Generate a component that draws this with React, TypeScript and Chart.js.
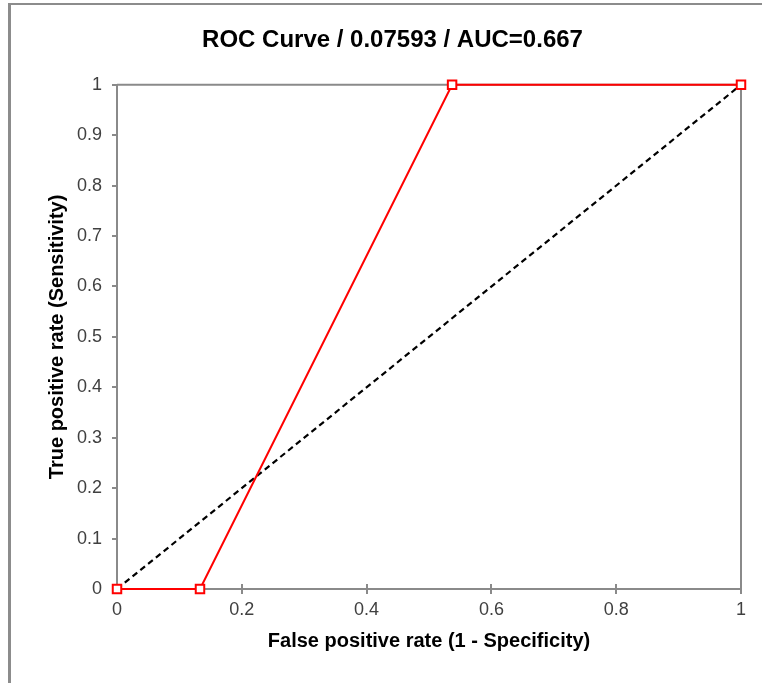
import React, { useEffect, useRef } from "react";
import { Chart, registerables } from "chart.js";

Chart.register(...registerables);

const titleText = "ROC Curve / 0.07593 / AUC=0.667";
const xAxisTitle = "False positive rate (1 - Specificity)";
const yAxisTitle = "True positive rate (Sensitivity)";

const rocFpr = [0, 0.133, 0.537, 1];
const rocTpr = [0, 0, 1, 1];
const diagX = [0, 1];
const diagY = [0, 1];

const xTickValues = [0, 0.2, 0.4, 0.6, 0.8, 1];
const xTickLabels = ["0", "0.2", "0.4", "0.6", "0.8", "1"];
const yTickValues = [0, 0.1, 0.2, 0.3, 0.4, 0.5, 0.6, 0.7, 0.8, 0.9, 1];
const yTickLabels = ["0", "0.1", "0.2", "0.3", "0.4", "0.5", "0.6", "0.7", "0.8", "0.9", "1"];

const FONT = "'Liberation Sans', Arial, sans-serif";
const AXIS_GRAY = "#8a8a8a";

const labelFor = (values: number[], labels: string[], v: number) => {
  const i = values.findIndex((t) => Math.abs(t - v) < 1e-6);
  return i >= 0 ? labels[i] : "";
};

const framePlugin = {
  id: "frameBox",
  beforeDatasetsDraw(chart: any) {
    const { ctx, chartArea } = chart;
    const { left, right, top, bottom } = chartArea;
    ctx.save();
    ctx.strokeStyle = AXIS_GRAY;
    ctx.lineWidth = 2;
    ctx.beginPath();
    ctx.moveTo(left, top);
    ctx.lineTo(right, top);
    ctx.lineTo(right, bottom);
    ctx.stroke();
    // inner half of x ticks (ticks cross the axis)
    const xs = chart.scales.x;
    ctx.beginPath();
    xTickValues.forEach((v) => {
      const px = Math.round(xs.getPixelForValue(v));
      ctx.moveTo(px, bottom);
      ctx.lineTo(px, bottom - 5);
    });
    ctx.stroke();
    ctx.restore();
  },
};

export default function App() {
  const canvasRef = useRef<HTMLCanvasElement | null>(null);

  useEffect(() => {
    const canvas = canvasRef.current;
    if (!canvas) return;
    const chart = new Chart(canvas, {
      type: "scatter",
      data: {
        datasets: [
          {
            label: "ROC",
            data: rocFpr.map((x, i) => ({ x, y: rocTpr[i] })),
            showLine: true,
            borderColor: "#ff0000",
            borderWidth: 2,
            pointStyle: "rect",
            pointRadius: 6,
            pointBackgroundColor: "#ffffff",
            pointBorderColor: "#ff0000",
            pointBorderWidth: 2,
            clip: false as any,
          },
          {
            label: "Random",
            data: diagX.map((x, i) => ({ x, y: diagY[i] })),
            showLine: true,
            borderColor: "#000000",
            borderWidth: 2.2,
            borderDash: [6, 4],
            pointRadius: 0,
            clip: false as any,
          },
        ],
      },
      options: {
        responsive: false,
        animation: false,
        devicePixelRatio: 1,
        layout: { padding: { left: 44, right: 21, top: 0, bottom: 0 } },
        plugins: {
          legend: { display: false },
          tooltip: { enabled: false },
          title: {
            display: true,
            text: titleText,
            color: "#000000",
            font: { family: FONT, size: 24, weight: "bold" },
            padding: { top: 26, bottom: 30 },
          },
        },
        scales: {
          x: {
            type: "linear",
            min: 0,
            max: 1,
            afterFit: (scale: any) => {
              scale.height = 94;
            },
            afterBuildTicks: (scale: any) => {
              scale.ticks = xTickValues.map((v) => ({ value: v }));
            },
            ticks: {
              padding: 5,
              color: "#404040",
              font: { family: FONT, size: 18 },
              callback: (v: any) => labelFor(xTickValues, xTickLabels, Number(v)),
              maxRotation: 0,
            },
            grid: {
              drawOnChartArea: false,
              drawTicks: true,
              tickLength: 5,
              color: AXIS_GRAY,
              lineWidth: 2,
            },
            border: { display: true, color: AXIS_GRAY, width: 2 },
            title: {
              display: true,
              text: xAxisTitle,
              color: "#000000",
              font: { family: FONT, size: 20, weight: "bold" },
              padding: { top: 0, bottom: 30 },
            },
          },
          y: {
            type: "linear",
            min: 0,
            max: 1,
            afterFit: (scale: any) => {
              scale.width = 73;
            },
            afterBuildTicks: (scale: any) => {
              scale.ticks = yTickValues.map((v) => ({ value: v }));
            },
            ticks: {
              padding: 10,
              color: "#404040",
              font: { family: FONT, size: 18 },
              callback: (v: any) => labelFor(yTickValues, yTickLabels, Number(v)),
            },
            grid: {
              drawOnChartArea: false,
              drawTicks: true,
              tickLength: 5,
              color: AXIS_GRAY,
              lineWidth: 2,
            },
            border: { display: true, color: AXIS_GRAY, width: 2 },
            title: {
              display: true,
              text: yAxisTitle,
              color: "#000000",
              font: { family: FONT, size: 20, weight: "bold" },
              padding: { top: 1, bottom: 0 },
            },
          },
        },
      },
      plugins: [framePlugin],
    });
    return () => chart.destroy();
  }, []);

  return (
    <div style={{ position: "fixed", left: 0, top: 0, width: 762, height: 683, background: "#ffffff" }}>
      <div
        style={{
          position: "absolute",
          left: 8,
          top: 3,
          right: 0,
          bottom: 0,
          borderTop: "2px solid #8c8c8c",
          borderLeft: "3px solid #8c8c8c",
        }}
      />
      <canvas
        ref={canvasRef}
        width={762}
        height={683}
        style={{ position: "absolute", left: 0, top: 0, width: 762, height: 683 }}
      />
    </div>
  );
}
